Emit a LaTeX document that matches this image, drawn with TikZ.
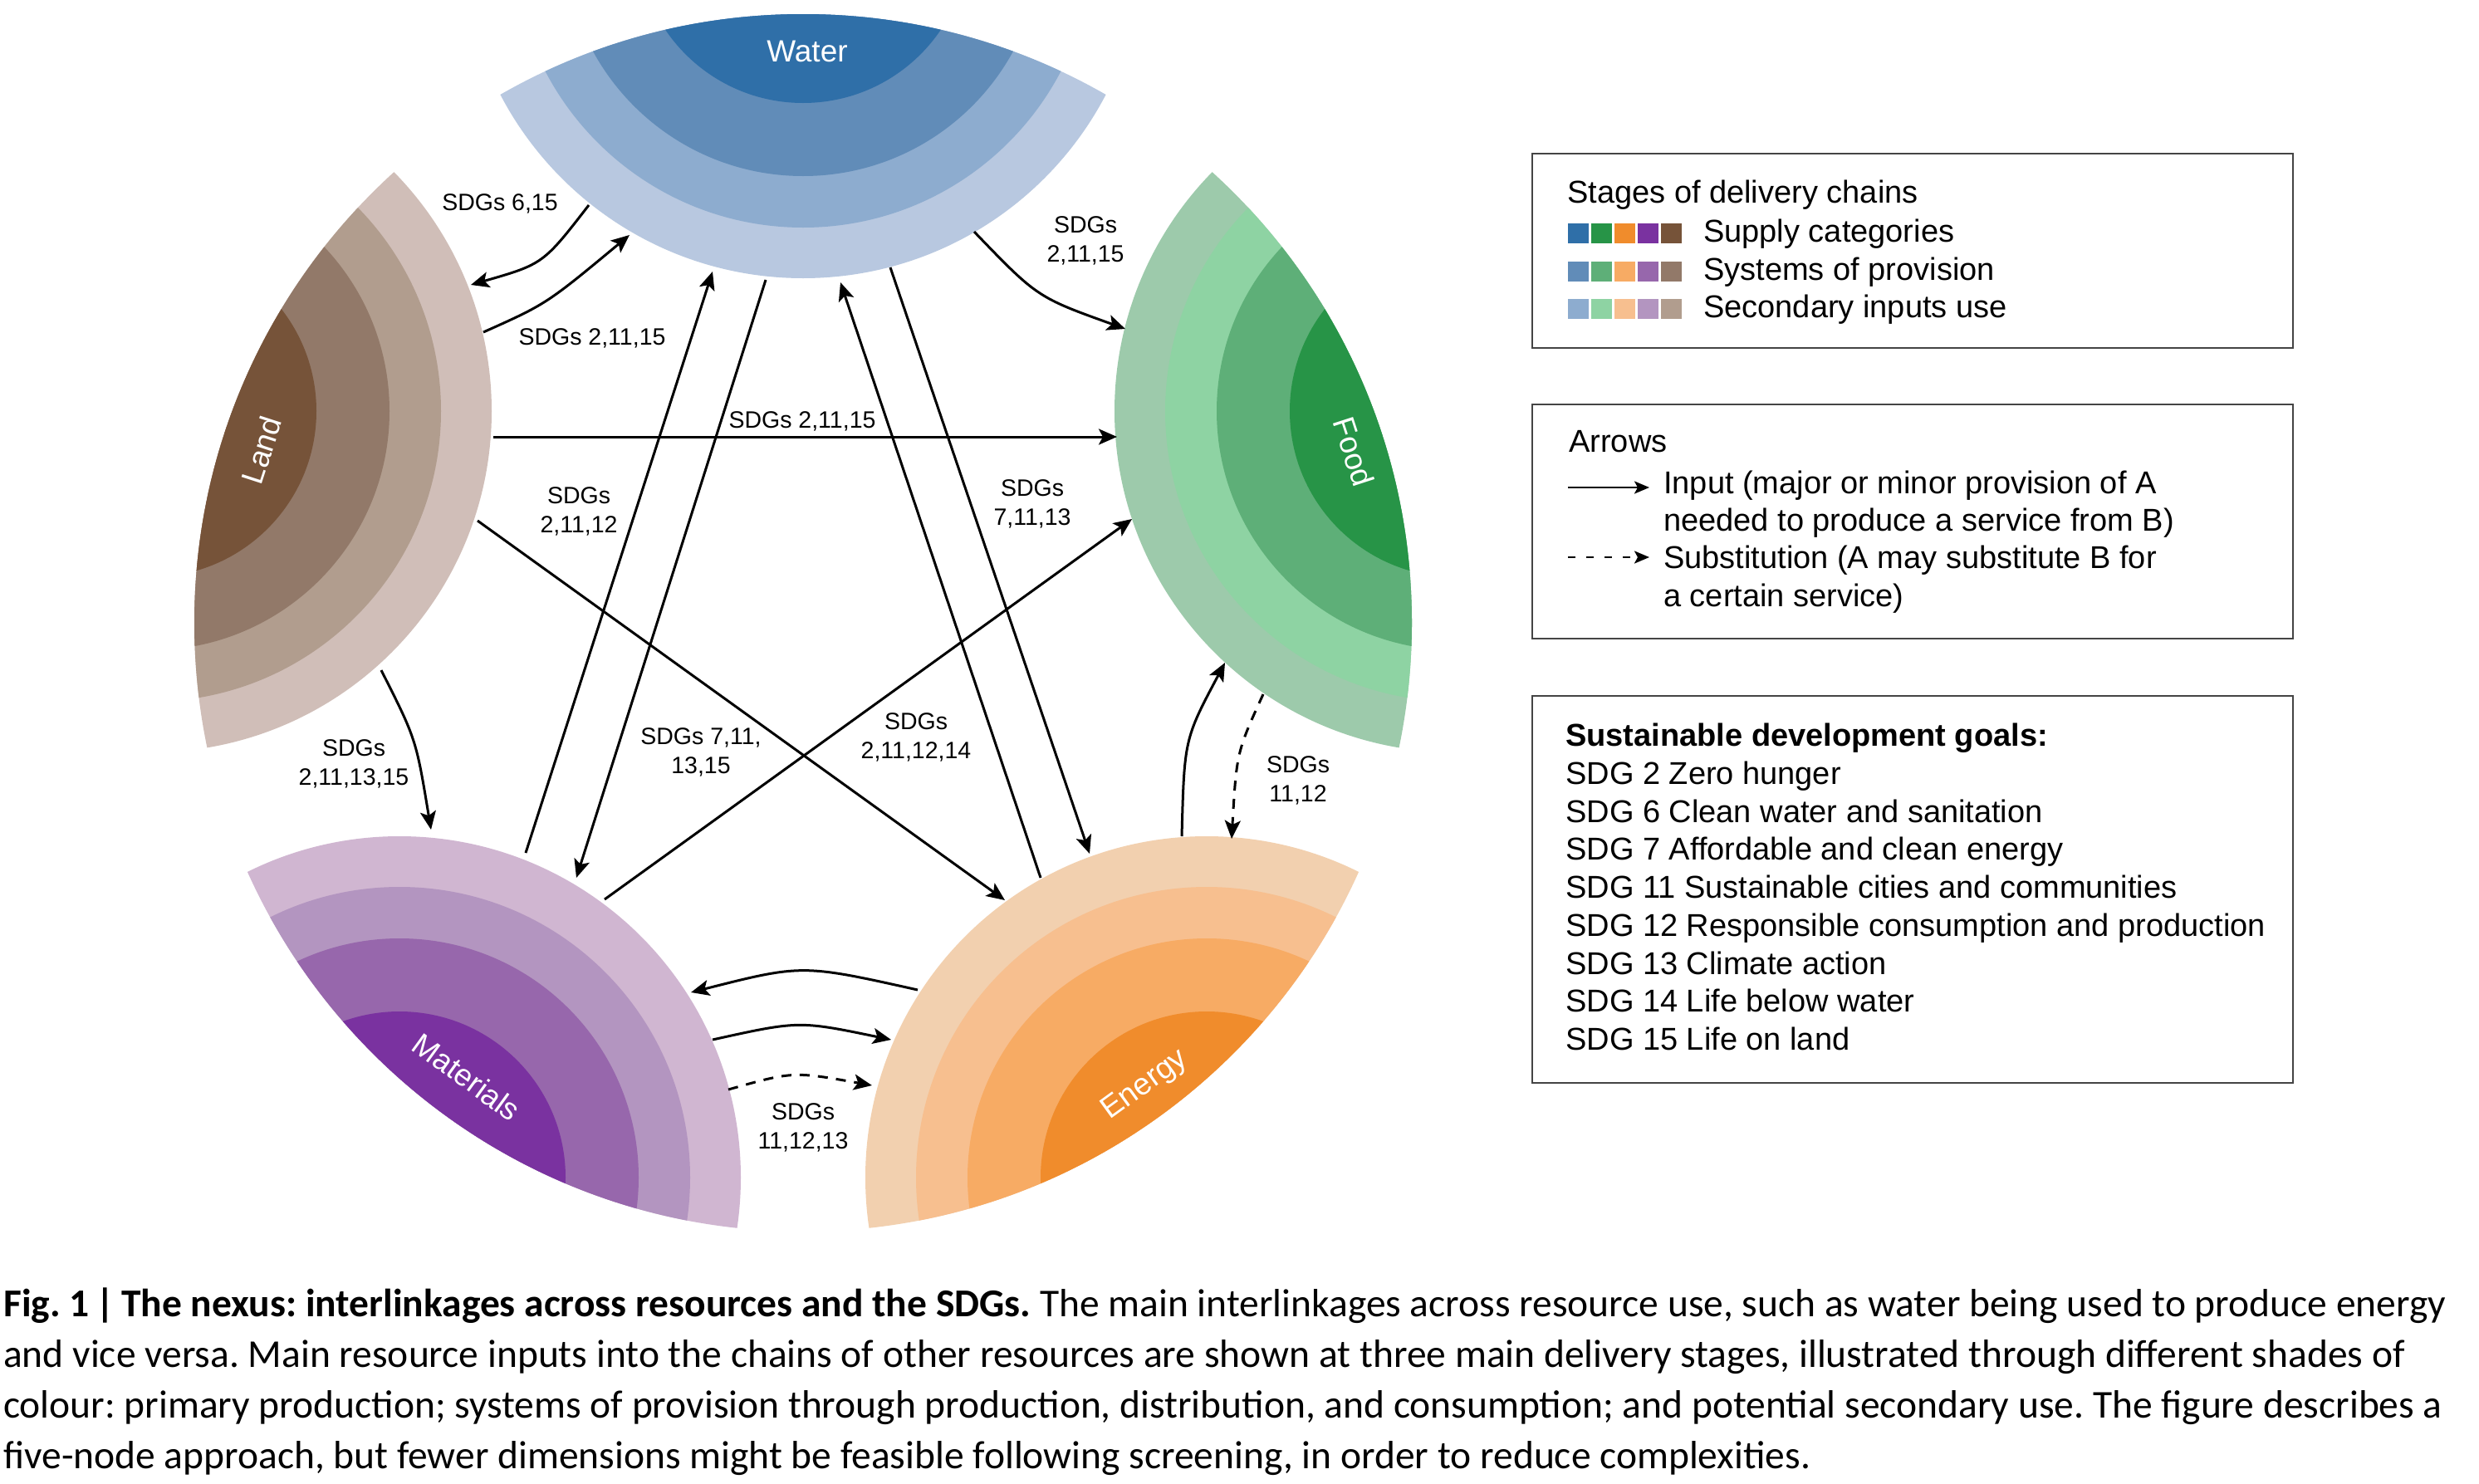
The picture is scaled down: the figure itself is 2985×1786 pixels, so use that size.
\documentclass[tikz,border=0pt]{standalone}
\usepackage{fontspec}
\setmainfont{Liberation Sans}
\newfontfamily\capfont{Carlito}
\usetikzlibrary{arrows.meta}
\definecolor{wA}{HTML}{2F6FA8}\definecolor{wB}{HTML}{618CB8}\definecolor{wC}{HTML}{8DACCF}\definecolor{wD}{HTML}{B8C8E0}
\definecolor{fA}{HTML}{279447}\definecolor{fB}{HTML}{5EAF78}\definecolor{fC}{HTML}{8ED3A3}\definecolor{fD}{HTML}{9DCAAB}
\definecolor{eA}{HTML}{F08C2C}\definecolor{eB}{HTML}{F7AB64}\definecolor{eC}{HTML}{F7BF8F}\definecolor{eD}{HTML}{F2D0AF}
\definecolor{mA}{HTML}{7A32A0}\definecolor{mB}{HTML}{9767AC}\definecolor{mC}{HTML}{B395C0}\definecolor{mD}{HTML}{D0B6D1}
\definecolor{lA}{HTML}{765339}\definecolor{lB}{HTML}{927969}\definecolor{lC}{HTML}{B19D8E}\definecolor{lD}{HTML}{D0BEB8}
\definecolor{boxline}{HTML}{444444}
\begin{document}
\frenchspacing
\begin{tikzpicture}[x=1pt,y=-1pt,
  conn/.style={line width=3pt,-{Stealth[length=22pt,width=19pt,inset=5pt]}},
  subst/.style={conn,dash pattern=on 12pt off 10pt},
  sdg/.style={font=\fontsize{28.5}{35}\selectfont,align=center,inner sep=0pt},
  nodelabel/.style={font=\fontsize{37}{44}\selectfont,text=white,inner sep=0pt},
  legbox/.style={draw=boxline,line width=2pt},
  legtext/.style={font=\fontsize{38}{46}\selectfont,anchor=base west,inner sep=0pt},
  captext/.style={font=\capfont\fontsize{47.5}{61}\selectfont,anchor=base west,inner sep=0pt},
  sq/.style={minimum width=25pt,minimum height=24pt,inner sep=0pt,anchor=center}
]
\fill[white] (0,0) rectangle (2985,1786);
\useasboundingbox (0,0) rectangle (2985,1786);

% centre and vertices of the pentagon
\coordinate (O) at (967,750);
\coordinate (VW) at (967,-76);
\coordinate (VF) at (1753,495);
\coordinate (VE) at (1453,1418);
\coordinate (VM) at (481,1418);
\coordinate (VL) at (181,495);

% resource nodes (lens shaped, four layers each)
\foreach \v/\a/\b/\c/\d in {VW/wA/wB/wC/wD, VF/fA/fB/fC/fD, VE/eA/eB/eC/eD, VM/mA/mB/mC/mD, VL/lA/lB/lC/lD}{
  \begin{scope}
    \clip (O) circle (733pt);
    \fill[\d] (\v) circle (411pt);
    \fill[\c] (\v) circle (350pt);
    \fill[\b] (\v) circle (288pt);
    \fill[\a] (\v) circle (200pt);
  \end{scope}
}
\node[nodelabel] (water) at (972,62) {Water};
\node[nodelabel,rotate=72] (land) at (315,542) {Land};
\node[nodelabel,rotate=-72] (food) at (1630,544) {Food};
\node[nodelabel,rotate=36] (energy) at (1379,1307) {Energy};
\node[nodelabel,rotate=-36] (materials) at (562,1297) {Materials};

% connector end points on node borders
\coordinate (wl1) at (709,247);  \coordinate (lw1) at (567,343);
\coordinate (lw2) at (582,400);  \coordinate (wl2) at (758,283);
\coordinate (wf1) at (1173,279); \coordinate (fw1) at (1355,396);
\coordinate (lf1) at (594,526);  \coordinate (fl1) at (1345,526);
\coordinate (le1) at (575,627);  \coordinate (el1) at (1210,1084);
\coordinate (mw1) at (633,1027); \coordinate (wm1) at (858,327);
\coordinate (wm2) at (922,337);  \coordinate (mw2) at (694,1057);
\coordinate (ew1) at (1253,1057);\coordinate (we1) at (1012,340);
\coordinate (we2) at (1072,322); \coordinate (ew2) at (1312,1028);
\coordinate (mf1) at (728,1083); \coordinate (fm1) at (1363,625);
\coordinate (lm1) at (459,807);  \coordinate (ml1) at (519,999);
\coordinate (ef1) at (1423,1007);\coordinate (fe1) at (1475,798);
\coordinate (fe2) at (1521,836); \coordinate (ef2) at (1483,1010);
\coordinate (em1) at (1105,1192);\coordinate (me1) at (832,1195);
\coordinate (me2) at (858,1252); \coordinate (em2) at (1073,1252);
\coordinate (me3) at (877,1312); \coordinate (em3) at (1050,1307);

% connectors
\draw[conn] (wl1) .. controls (654,318) .. (lw1);
\draw[conn] (lw2) .. controls (658,366) .. (wl2);
\draw[conn] (wf1) .. controls (1249,358) .. (fw1);
\draw[conn] (lf1) -- (fl1);
\draw[conn] (le1) -- (el1);
\draw[conn] (mw1) -- (wm1);
\draw[conn] (wm2) -- (mw2);
\draw[conn] (ew1) -- (we1);
\draw[conn] (we2) -- (ew2);
\draw[conn] (mf1) -- (fm1);
\draw[conn] (lm1) .. controls (501,890) .. (ml1);
\draw[conn] (ef1) .. controls (1426,890) .. (fe1);
\draw[subst] (fe2) .. controls (1489,906) .. (ef2);
\draw[conn] (em1) .. controls (966,1161) .. (me1);
\draw[conn] (me2) .. controls (962,1229) .. (em2);
\draw[subst] (me3) .. controls (955,1290) .. (em3);

% SDG labels
\node[sdg] (s1) at (602,245) {SDGs 6,15};
\node[sdg] (s2) at (713,407) {SDGs 2,11,15};
\node[sdg] (s3) at (1307,290) {SDGs\\2,11,15};
\node[sdg] (s4) at (966,507) {SDGs 2,11,15};
\node[sdg] (s5) at (697,616) {SDGs\\2,11,12};
\node[sdg] (s6) at (1243,607) {SDGs\\7,11,13};
\node[sdg] (s7) at (844,906) {SDGs 7,11,\\13,15};
\node[sdg] (s8) at (1103,888) {SDGs\\2,11,12,14};
\node[sdg] (s9) at (426,920) {SDGs\\2,11,13,15};
\node[sdg] (s10) at (1563,940) {SDGs\\11,12};
\node[sdg] (s11) at (967,1358) {SDGs\\11,12,13};

% legend 1
\draw[legbox] (1845,185) rectangle (2761,419);
\node[legtext] (stages) at (1887,244) {Stages of delivery chains};
\foreach \col [count=\i from 0] in {wA,fA,eA,mA,lA}{
  \node[sq,fill=\col] (sqa\i) at (1900.5+28*\i,281) {};}
\foreach \col [count=\i from 0] in {wB,fB,eB,mB,lB}{
  \node[sq,fill=\col] (sqb\i) at (1900.5+28*\i,327) {};}
\foreach \col [count=\i from 0] in {wC,fC,eC,mC,lC}{
  \node[sq,fill=\col] (sqc\i) at (1900.5+28*\i,372) {};}
\node[legtext] (supply) at (2051,291) {Supply categories};
\node[legtext] (systems) at (2051,337) {Systems of provision};
\node[legtext] (secondary) at (2051,382) {Secondary inputs use};

% legend 2
\draw[legbox] (1845,487) rectangle (2761,769);
\node[legtext] (arrows) at (1889,544) {Arrows};
\coordinate (la1) at (1888,587); \coordinate (la2) at (1986,587);
\coordinate (lb1) at (1888,671); \coordinate (lb2) at (1986,671);
\draw[line width=2.5pt,-{Stealth[length=18pt,width=15pt,inset=4pt]}] (la1) -- (la2);
\draw[line width=2.5pt,dash pattern=on 9pt off 13pt,-{Stealth[length=18pt,width=15pt,inset=4pt]}] (lb1) -- (lb2);
\node[legtext] (in1) at (2003,594) {Input (major or minor provision of A};
\node[legtext] (in2) at (2003,639) {needed to produce a service from B)};
\node[legtext] (su1) at (2003,684) {Substitution (A may substitute B for};
\node[legtext] (su2) at (2003,730) {a certain service)};

% legend 3
\draw[legbox] (1845,838) rectangle (2761,1304);
\node[legtext,font=\fontsize{38}{46}\selectfont\bfseries] (goals) at (1885,898) {Sustainable development goals:};
\node[legtext] (g2) at (1885,944) {SDG 2 Zero hunger};
\node[legtext] (g6) at (1885,990) {SDG 6 Clean water and sanitation};
\node[legtext] (g7) at (1885,1035) {SDG 7 Affordable and clean energy};
\node[legtext] (g11) at (1885,1081) {SDG 11 Sustainable cities and communities};
\node[legtext] (g12) at (1885,1127) {SDG 12 Responsible consumption and production};
\node[legtext] (g13) at (1885,1173) {SDG 13 Climate action};
\node[legtext] (g14) at (1885,1218) {SDG 14 Life below water};
\node[legtext] (g15) at (1885,1264) {SDG 15 Life on land};

% caption
\node[captext] (cap1) at (4,1585) {\textbf{Fig. 1\,|\,The nexus: interlinkages across resources and the SDGs.} The main interlinkages across resource use, such as water being used to produce energy};
\node[captext] (cap2) at (4,1646) {and vice versa. Main resource inputs into the chains of other resources are shown at three main delivery stages, illustrated through different shades of};
\node[captext] (cap3) at (4,1707) {colour: primary production; systems of provision through production, distribution, and consumption; and potential secondary use. The figure describes a};
\node[captext] (cap4) at (4,1768) {five-node approach, but fewer dimensions might be feasible following screening, in order to reduce complexities.};
\end{tikzpicture}
\end{document}
